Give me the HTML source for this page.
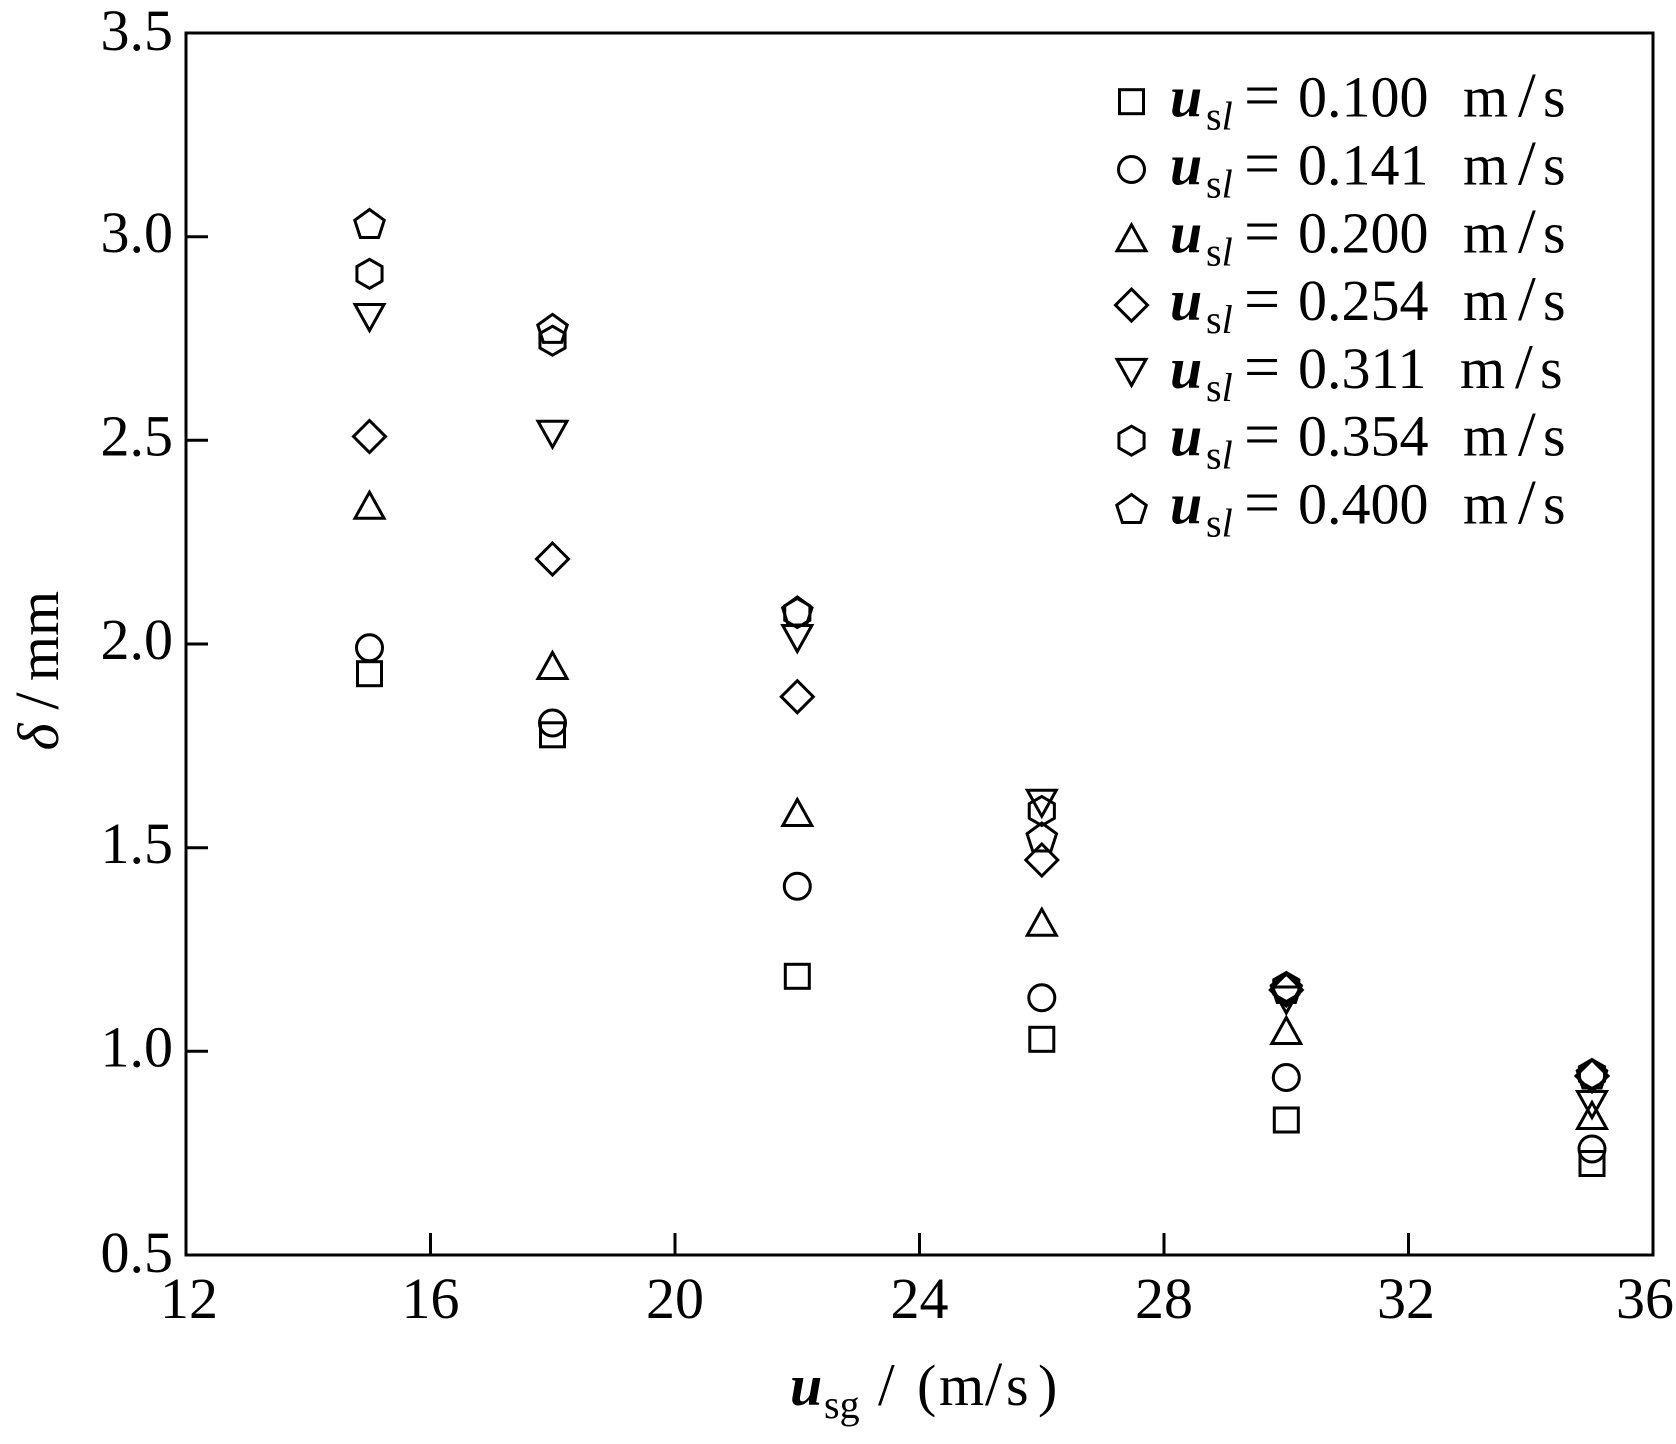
<!DOCTYPE html>
<html>
<head>
<meta charset="utf-8">
<style>
html,body{margin:0;padding:0;background:#fff;}
svg{display:block;}
text{font-family:"Liberation Serif","Times New Roman",serif;fill:#000;}
</style>
</head>
<body>
<svg width="1676" height="1444" viewBox="0 0 1676 1444" xmlns="http://www.w3.org/2000/svg">
<rect x="0" y="0" width="1676" height="1444" fill="#fff"/>
<!-- axes box -->
<rect x="186" y="33" width="1467" height="1222" fill="none" stroke="#000" stroke-width="3"/>
<!-- y ticks -->
<g stroke="#000" stroke-width="3">
<line x1="186" y1="236.7" x2="208" y2="236.7"/>
<line x1="186" y1="440.3" x2="208" y2="440.3"/>
<line x1="186" y1="644" x2="208" y2="644"/>
<line x1="186" y1="847.7" x2="208" y2="847.7"/>
<line x1="186" y1="1051.3" x2="208" y2="1051.3"/>
<!-- x ticks -->
<line x1="430.5" y1="1255" x2="430.5" y2="1233"/>
<line x1="675" y1="1255" x2="675" y2="1233"/>
<line x1="919.5" y1="1255" x2="919.5" y2="1233"/>
<line x1="1164" y1="1255" x2="1164" y2="1233"/>
<line x1="1408.5" y1="1255" x2="1408.5" y2="1233"/>
</g>
<!-- y tick labels -->
<g font-size="58" text-anchor="end">
<text x="173" y="50">3.5</text>
<text x="173" y="252">3.0</text>
<text x="173" y="455.5">2.5</text>
<text x="173" y="659">2.0</text>
<text x="173" y="863">1.5</text>
<text x="173" y="1066.5">1.0</text>
<text x="173" y="1272">0.5</text>
</g>
<!-- x tick labels -->
<g font-size="58" text-anchor="middle">
<text x="189" y="1318">12</text>
<text x="430.5" y="1318">16</text>
<text x="675" y="1318">20</text>
<text x="919.5" y="1318">24</text>
<text x="1164" y="1318">28</text>
<text x="1406" y="1318">32</text>
<text x="1674" y="1318" text-anchor="end">36</text>
</g>
<!-- x axis label -->
<text x="790" y="1405" font-size="58" font-style="italic" font-weight="bold">u</text>
<text x="824" y="1418" font-size="40">sg</text>
<text x="878" y="1405" font-size="60">/</text>
<text x="917" y="1405" font-size="58">(</text>
<text x="939" y="1405" font-size="58">m</text>
<text x="985" y="1405" font-size="62">/</text>
<text x="1006" y="1405" font-size="58">s</text>
<text x="1038" y="1405" font-size="58">)</text>
<!-- y axis label -->
<g font-size="58">
<text transform="translate(58,737) rotate(-90)" text-anchor="middle" font-style="italic">δ</text>
<text transform="translate(58,701) rotate(-90)" text-anchor="middle" font-size="62">/</text>
<text transform="translate(58,636) rotate(-90)" text-anchor="middle">mm</text>
</g>

<!-- markers -->
<g fill="none" stroke="#000" stroke-width="3" stroke-linejoin="miter" stroke-miterlimit="4">
<!-- x=15 -->
<path transform="translate(369.5,223.5)" d="M0,-14 L14.74,-3.29 L9.11,14.04 L-9.11,14.04 L-14.74,-3.29 Z"/>
<path transform="translate(369.5,273.8)" d="M0,-14.5 L12.56,-7.25 L12.56,7.25 L0,14.5 L-12.56,7.25 L-12.56,-7.25 Z"/>
<path transform="translate(369.5,318)" d="M-14.5,-13.5 L14.5,-13.5 L0,12.5 Z"/>
<path transform="translate(369.5,436.5)" d="M0,-16 L16,0 L0,16 L-16,0 Z"/>
<path transform="translate(369.5,504.7)" d="M0,-12.5 L14.5,13.5 L-14.5,13.5 Z"/>
<circle cx="369.5" cy="647.8" r="13"/>
<rect x="357.5" y="661.7" width="24" height="24"/>
<!-- x=18 -->
<path transform="translate(552.5,328.3)" d="M0,-14 L14.74,-3.29 L9.11,14.04 L-9.11,14.04 L-14.74,-3.29 Z"/>
<path transform="translate(552.5,340.7)" d="M0,-14.5 L12.56,-7.25 L12.56,7.25 L0,14.5 L-12.56,7.25 L-12.56,-7.25 Z"/>
<path transform="translate(552.5,434.7)" d="M-14.5,-13.5 L14.5,-13.5 L0,12.5 Z"/>
<path transform="translate(552.5,559)" d="M0,-16 L16,0 L0,16 L-16,0 Z"/>
<path transform="translate(552.5,665)" d="M0,-12.5 L14.5,13.5 L-14.5,13.5 Z"/>
<circle cx="552.5" cy="723" r="13"/>
<rect x="540.5" y="722.8" width="24" height="24"/>
<!-- x=22 -->
<path transform="translate(797.3,611)" d="M0,-14 L14.74,-3.29 L9.11,14.04 L-9.11,14.04 L-14.74,-3.29 Z"/>
<path transform="translate(797.3,613)" d="M0,-14.5 L12.56,-7.25 L12.56,7.25 L0,14.5 L-12.56,7.25 L-12.56,-7.25 Z"/>
<path transform="translate(797.3,639)" d="M-14.5,-13.5 L14.5,-13.5 L0,12.5 Z"/>
<path transform="translate(797.3,696.7)" d="M0,-16 L16,0 L0,16 L-16,0 Z"/>
<path transform="translate(797.3,812)" d="M0,-12.5 L14.5,13.5 L-14.5,13.5 Z"/>
<circle cx="797.3" cy="886.3" r="13"/>
<rect x="785.3" y="964.3" width="24" height="24"/>
<!-- x=26 -->
<path transform="translate(1041.8,837)" d="M0,-14 L14.74,-3.29 L9.11,14.04 L-9.11,14.04 L-14.74,-3.29 Z"/>
<path transform="translate(1041.8,811)" d="M0,-14.5 L12.56,-7.25 L12.56,7.25 L0,14.5 L-12.56,7.25 L-12.56,-7.25 Z"/>
<path transform="translate(1041.8,803.7)" d="M-14.5,-13.5 L14.5,-13.5 L0,12.5 Z"/>
<path transform="translate(1041.8,860)" d="M0,-16 L16,0 L0,16 L-16,0 Z"/>
<path transform="translate(1041.8,921.7)" d="M0,-12.5 L14.5,13.5 L-14.5,13.5 Z"/>
<circle cx="1041.8" cy="997.7" r="13"/>
<rect x="1029.8" y="1027.3" width="24" height="24"/>
<!-- x=30 -->
<path transform="translate(1286.3,988.5)" d="M0,-14 L14.74,-3.29 L9.11,14.04 L-9.11,14.04 L-14.74,-3.29 Z"/>
<path transform="translate(1286.3,987)" d="M0,-14.5 L12.56,-7.25 L12.56,7.25 L0,14.5 L-12.56,7.25 L-12.56,-7.25 Z"/>
<path transform="translate(1286.3,1000.5)" d="M-14.5,-13.5 L14.5,-13.5 L0,12.5 Z"/>
<path transform="translate(1286.3,990)" d="M0,-16 L16,0 L0,16 L-16,0 Z"/>
<path transform="translate(1286.3,1030)" d="M0,-12.5 L14.5,13.5 L-14.5,13.5 Z"/>
<circle cx="1286.3" cy="1077.5" r="13"/>
<rect x="1274.3" y="1108" width="24" height="24"/>
<!-- x=35 -->
<path transform="translate(1592,1074)" d="M0,-14 L14.74,-3.29 L9.11,14.04 L-9.11,14.04 L-14.74,-3.29 Z"/>
<path transform="translate(1592,1074)" d="M0,-14.5 L12.56,-7.25 L12.56,7.25 L0,14.5 L-12.56,7.25 L-12.56,-7.25 Z"/>
<path transform="translate(1592,1105)" d="M-14.5,-13.5 L14.5,-13.5 L0,12.5 Z"/>
<path transform="translate(1592,1076)" d="M0,-16 L16,0 L0,16 L-16,0 Z"/>
<path transform="translate(1592,1115)" d="M0,-12.5 L14.5,13.5 L-14.5,13.5 Z"/>
<circle cx="1592" cy="1149" r="13"/>
<rect x="1580" y="1151.5" width="24" height="24"/>

<!-- legend markers -->
<rect x="1119.5" y="89.7" width="24" height="24"/>
<circle cx="1131.5" cy="169.5" r="13"/>
<path transform="translate(1131.5,237.3)" d="M0,-12.5 L14.5,13.5 L-14.5,13.5 Z"/>
<path transform="translate(1131.5,305.1)" d="M0,-16 L16,0 L0,16 L-16,0 Z"/>
<path transform="translate(1131.5,372.9)" d="M-14.5,-13.5 L14.5,-13.5 L0,12.5 Z"/>
<path transform="translate(1131.5,440.7)" d="M0,-14.5 L12.56,-7.25 L12.56,7.25 L0,14.5 L-12.56,7.25 L-12.56,-7.25 Z"/>
<path transform="translate(1131.5,508.5)" d="M0,-14 L14.74,-3.29 L9.11,14.04 L-9.11,14.04 L-14.74,-3.29 Z"/>
</g>

<!-- legend text -->
<g font-size="58">
<g>
<text x="1170" y="116.7" font-style="italic" font-weight="bold">u</text>
<text x="1206" y="129.7" font-size="40">s<tspan font-style="italic">l</tspan></text>
<text x="1244" y="116.7" font-size="64">=</text>
<text x="1298" y="116.7">0.100</text>
<text x="1463" y="116.7">m</text>
<text x="1518" y="116.7" font-size="64">/</text>
<text x="1543" y="116.7">s</text>
</g>
<g>
<text x="1170" y="184.5" font-style="italic" font-weight="bold">u</text>
<text x="1206" y="197.5" font-size="40">s<tspan font-style="italic">l</tspan></text>
<text x="1244" y="184.5" font-size="64">=</text>
<text x="1298" y="184.5">0.141</text>
<text x="1463" y="184.5">m</text>
<text x="1518" y="184.5" font-size="64">/</text>
<text x="1543" y="184.5">s</text>
</g>
<g>
<text x="1170" y="252.3" font-style="italic" font-weight="bold">u</text>
<text x="1206" y="265.3" font-size="40">s<tspan font-style="italic">l</tspan></text>
<text x="1244" y="252.3" font-size="64">=</text>
<text x="1298" y="252.3">0.200</text>
<text x="1463" y="252.3">m</text>
<text x="1518" y="252.3" font-size="64">/</text>
<text x="1543" y="252.3">s</text>
</g>
<g>
<text x="1170" y="320.1" font-style="italic" font-weight="bold">u</text>
<text x="1206" y="333.1" font-size="40">s<tspan font-style="italic">l</tspan></text>
<text x="1244" y="320.1" font-size="64">=</text>
<text x="1298" y="320.1">0.254</text>
<text x="1463" y="320.1">m</text>
<text x="1518" y="320.1" font-size="64">/</text>
<text x="1543" y="320.1">s</text>
</g>
<g>
<text x="1170" y="387.9" font-style="italic" font-weight="bold">u</text>
<text x="1206" y="400.9" font-size="40">s<tspan font-style="italic">l</tspan></text>
<text x="1244" y="387.9" font-size="64">=</text>
<text x="1298" y="387.9">0.311</text>
<text x="1460" y="387.9">m</text>
<text x="1515" y="387.9" font-size="64">/</text>
<text x="1540" y="387.9">s</text>
</g>
<g>
<text x="1170" y="455.7" font-style="italic" font-weight="bold">u</text>
<text x="1206" y="468.7" font-size="40">s<tspan font-style="italic">l</tspan></text>
<text x="1244" y="455.7" font-size="64">=</text>
<text x="1298" y="455.7">0.354</text>
<text x="1463" y="455.7">m</text>
<text x="1518" y="455.7" font-size="64">/</text>
<text x="1543" y="455.7">s</text>
</g>
<g>
<text x="1170" y="523.5" font-style="italic" font-weight="bold">u</text>
<text x="1206" y="536.5" font-size="40">s<tspan font-style="italic">l</tspan></text>
<text x="1244" y="523.5" font-size="64">=</text>
<text x="1298" y="523.5">0.400</text>
<text x="1463" y="523.5">m</text>
<text x="1518" y="523.5" font-size="64">/</text>
<text x="1543" y="523.5">s</text>
</g>
</g>
</svg>
</body>
</html>
